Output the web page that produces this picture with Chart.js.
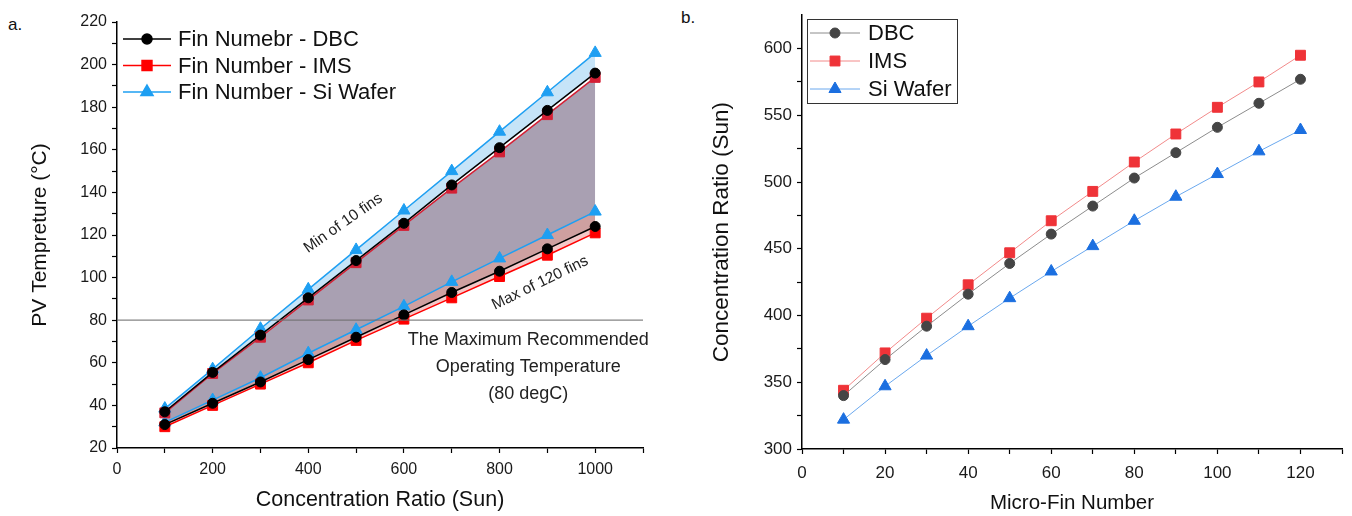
<!DOCTYPE html>
<html>
<head>
<meta charset="utf-8">
<script src="https://cdn.jsdelivr.net/npm/chart.js@4.4.1/dist/chart.umd.min.js"></script>
<style>
    body { margin: 0; width: 1352px; height: 516px; background: #fff; position: relative; overflow: hidden; font-family: "Liberation Sans", Arial, sans-serif; }
    #wrapA { position: absolute; left: 0; top: 0; width: 665px; height: 516px; }
    #wrapB { position: absolute; left: 665px; top: 0; width: 687px; height: 516px; }
    .tag { position: absolute; font-size: 17px; color: #111; }
</style>
</head>
<body>
<div class="tag" style="left:8px;top:15px">a.</div>
<div class="tag" style="left:681px;top:8px">b.</div>
<div id="wrapA"><canvas id="chartA" width="665" height="516"></canvas></div>
<div id="wrapB"><canvas id="chartB" width="687" height="516"></canvas></div>
<script>
// ---- chart a data ----
const sunRatio = [100, 200, 300, 400, 500, 600, 700, 800, 900, 1000];
const dbcMin10 = [37, 55.5, 73, 90.5, 108, 125.5, 143.5, 161, 178.5, 196];
const imsMin10 = [36.5, 55, 72, 89.5, 107, 124.5, 142, 159, 176.5, 194];
const siMin10 = [38.5, 57, 76, 94.5, 113, 131.5, 150, 168.5, 187, 205.5];
const dbcMax120 = [31, 41, 51, 61.5, 72, 82.5, 93, 103, 113.5, 124];
const imsMax120 = [30, 40, 50, 60, 70.5, 80.5, 90.5, 100.5, 110.5, 121];
const siMax120 = [32, 42.5, 53, 64.5, 75.5, 86.5, 98, 109, 120, 131];
const legendA = ['Fin Numebr - DBC', 'Fin Number - IMS', 'Fin Number - Si Wafer'];
const limitTemp = 80;
const limitText = ['The Maximum Recommended', 'Operating Temperature', '(80 degC)'];

// ---- chart b data ----
const finNumber = [10, 20, 30, 40, 50, 60, 70, 80, 90, 100, 110, 120];
const dbcRatio = [340, 367, 392, 416, 439, 461, 482, 503, 522, 541, 559, 577];
const imsRatio = [344, 372, 398, 423, 447, 471, 493, 515, 536, 556, 575, 595];
const siRatio = [322, 347, 370, 392, 413, 433, 452, 471, 489, 506, 523, 539];
const legendB = ['DBC', 'IMS', 'Si Wafer'];

const FONT = '"Liberation Sans", Arial, sans-serif';

function pts(xs, ys) {
    return xs.map((x, i) => ({ x: x, y: ys[i] }));
}

// Legend drawn inside the plot area
const boxLegend = {
    id: 'boxLegend',
    afterDraw(chart, args, opts) {
        const ctx = chart.ctx;
        ctx.save();
        if (opts.box) {
            ctx.fillStyle = '#fff';
            ctx.fillRect(opts.box.x, opts.box.y, opts.box.w, opts.box.h);
            ctx.strokeStyle = '#333';
            ctx.lineWidth = 1;
            ctx.strokeRect(opts.box.x + 0.5, opts.box.y + 0.5, opts.box.w, opts.box.h);
        }
        opts.items.forEach((it, i) => {
            const ds = chart.data.datasets[it.index];
            const y = opts.y + i * opts.rowH;
            ctx.strokeStyle = ds.borderColor;
            ctx.lineWidth = ds.borderWidth;
            ctx.beginPath();
            ctx.moveTo(opts.x, y);
            ctx.lineTo(opts.x + opts.lineLen, y);
            ctx.stroke();
            ctx.fillStyle = ds.pointBackgroundColor;
            ctx.strokeStyle = ds.pointBorderColor;
            Chart.helpers.drawPoint(ctx, { pointStyle: ds.pointStyle, radius: ds.pointRadius, borderWidth: 1, rotation: 0 },
                opts.x + opts.lineLen / 2, y);
            ctx.fillStyle = '#111';
            ctx.font = opts.font;
            ctx.textBaseline = 'middle';
            ctx.textAlign = 'left';
            ctx.fillText(it.text, opts.x + opts.lineLen + opts.gap, y + 1);
        });
        ctx.restore();
    }
};

// Limit line and notes for chart a
const notesA = {
    id: 'notesA',
    afterDatasetsDraw(chart) {
        const ctx = chart.ctx;
        const xs = chart.scales.x, ys = chart.scales.y;
        const area = chart.chartArea;
        ctx.save();
        const yl = ys.getPixelForValue(limitTemp);
        ctx.strokeStyle = 'rgba(110,110,110,0.85)';
        ctx.lineWidth = 1.3;
        ctx.beginPath();
        ctx.moveTo(area.left, yl);
        ctx.lineTo(area.right, yl);
        ctx.stroke();

        ctx.fillStyle = '#222';
        ctx.textAlign = 'center';
        ctx.textBaseline = 'middle';
        ctx.font = '18px ' + FONT;
        const cx = xs.getPixelForValue(860);
        [70.7, 58, 45.3].forEach((v, i) => {
            ctx.fillText(limitText[i], cx, ys.getPixelForValue(v));
        });

        ctx.font = '15.5px ' + FONT;
        ctx.translate(xs.getPixelForValue(473), ys.getPixelForValue(125.5));
        ctx.rotate(-35 * Math.PI / 180);
        ctx.fillText('Min of 10 fins', 0, 0);
        ctx.setTransform(1, 0, 0, 1, 0, 0);
        ctx.translate(xs.getPixelForValue(885), ys.getPixelForValue(97.5));
        ctx.rotate(-26 * Math.PI / 180);
        ctx.fillText('Max of 120 fins', 0, 0);
        ctx.restore();
    }
};

function line(label, data, color, marker, radius, width, fill) {
    return {
        label: label,
        data: data,
        borderColor: color,
        borderWidth: width,
        pointStyle: marker,
        pointRadius: radius,
        pointBackgroundColor: color,
        pointBorderColor: color,
        pointBorderWidth: 1,
        tension: 0,
        fill: fill || false
    };
}

function band(target, color) {
    return { target: target, above: color, below: color };
}

const axisGrid = {
    drawOnChartArea: false,
    drawTicks: true,
    tickLength: 5,
    tickWidth: 1.2,
    color: '#000'
};

// Chart a
new Chart(document.getElementById('chartA'), {
    type: 'line',
    data: {
        datasets: [
            line(legendA[0], pts(sunRatio, dbcMin10), '#000000', 'circle', 5, 1.5),
            line(legendA[1], pts(sunRatio, imsMin10), '#d42035', 'rect', 7, 1.5, band(5, 'rgb(169,160,178)')),
            line(legendA[2], pts(sunRatio, siMin10), '#1e9ff2', 'triangle', 7, 1.5, band(0, 'rgb(198,228,248)')),
            line(legendA[0], pts(sunRatio, dbcMax120), '#000000', 'circle', 5, 1.5, band(4, 'rgb(244,200,200)')),
            line(legendA[1], pts(sunRatio, imsMax120), '#ff0000', 'rect', 7, 1.5),
            line(legendA[2], pts(sunRatio, siMax120), '#1e9ff2', 'triangle', 7, 1.5, band(3, 'rgb(206,160,160)'))
        ]
    },
    options: {
        responsive: false,
        animation: false,
        layout: { padding: { top: 22, right: 22, left: 0, bottom: 0 } },
        plugins: {
            legend: { display: false },
            tooltip: { enabled: false },
            filler: { drawTime: 'beforeDatasetsDraw', propagate: false },
            boxLegend: {
                x: 123, y: 39, rowH: 26.5, lineLen: 48, gap: 7, font: '22px ' + FONT,
                items: [
                    { index: 3, text: legendA[0] },
                    { index: 4, text: legendA[1] },
                    { index: 5, text: legendA[2] }
                ]
            }
        },
        scales: {
            x: {
                type: 'linear',
                min: 0,
                max: 1100,
                afterFit: s => { s.height = 68; },
                border: { color: '#000', width: 1.5 },
                grid: axisGrid,
                ticks: {
                    stepSize: 100,
                    autoSkip: false,
                    maxRotation: 0,
                    padding: 7,
                    color: '#1a1a1a',
                    font: { size: 16, family: FONT },
                    callback: v => (v % 200 === 0 ? v : '')
                },
                title: {
                    display: true,
                    text: 'Concentration Ratio (Sun)',
                    color: '#111',
                    font: { size: 21.5, family: FONT },
                    padding: { top: 0, bottom: 3 }
                }
            },
            y: {
                min: 20,
                max: 220,
                afterFit: s => { s.width = 117; },
                border: { color: '#000', width: 1.5 },
                grid: axisGrid,
                ticks: {
                    stepSize: 10,
                    autoSkip: false,
                    padding: 5,
                    color: '#1a1a1a',
                    font: { size: 16, family: FONT },
                    callback: v => (v % 20 === 0 ? v : '')
                },
                title: {
                    display: true,
                    text: 'PV Tempreture (°C)',
                    color: '#111',
                    font: { size: 21, family: FONT },
                    padding: { top: 28, bottom: 0 }
                }
            }
        }
    },
    plugins: [boxLegend, notesA]
});

// Chart b
new Chart(document.getElementById('chartB'), {
    type: 'line',
    data: {
        datasets: [
            Object.assign(line(legendB[0], pts(finNumber, dbcRatio), '#8c8c8c', 'circle', 5, 1),
                { pointBackgroundColor: '#454545', pointBorderColor: '#454545' }),
            Object.assign(line(legendB[1], pts(finNumber, imsRatio), '#f28a8a', 'rect', 7, 1),
                { pointBackgroundColor: '#ef3338', pointBorderColor: '#ef3338' }),
            Object.assign(line(legendB[2], pts(finNumber, siRatio), '#6aa8ee', 'triangle', 7, 1),
                { pointBackgroundColor: '#1b6fe0', pointBorderColor: '#1b6fe0' })
        ]
    },
    options: {
        responsive: false,
        animation: false,
        layout: { padding: { top: 14, right: 10, left: 0, bottom: 0 } },
        plugins: {
            legend: { display: false },
            tooltip: { enabled: false },
            boxLegend: {
                box: { x: 142, y: 19, w: 150, h: 84 },
                x: 145, y: 33, rowH: 28, lineLen: 50, gap: 8, font: '22px ' + FONT,
                items: [
                    { index: 0, text: legendB[0] },
                    { index: 1, text: legendB[1] },
                    { index: 2, text: legendB[2] }
                ]
            }
        },
        scales: {
            x: {
                type: 'linear',
                min: 0,
                max: 130,
                afterFit: s => { s.height = 67; },
                border: { color: '#000', width: 1.5 },
                grid: axisGrid,
                ticks: {
                    stepSize: 10,
                    autoSkip: false,
                    maxRotation: 0,
                    padding: 9,
                    color: '#1a1a1a',
                    font: { size: 17, family: FONT },
                    callback: v => (v % 20 === 0 && v <= 120 ? v : '')
                },
                title: {
                    display: true,
                    text: 'Micro-Fin Number',
                    color: '#111',
                    font: { size: 20.5, family: FONT },
                    padding: { top: 0, bottom: 0 }
                }
            },
            y: {
                min: 300,
                max: 625,
                afterFit: s => { s.width = 137; },
                border: { color: '#000', width: 1.5 },
                grid: Object.assign({}, axisGrid, {
                    tickColor: c => (c.tick && c.tick.value > 600 ? 'rgba(0,0,0,0)' : '#000')
                }),
                ticks: {
                    stepSize: 25,
                    autoSkip: false,
                    padding: 5,
                    color: '#1a1a1a',
                    font: { size: 17, family: FONT },
                    callback: v => (v % 50 === 0 ? v : '')
                },
                title: {
                    display: true,
                    text: 'Concentration Ratio (Sun)',
                    color: '#111',
                    font: { size: 22.5, family: FONT },
                    padding: { top: 43, bottom: 0 }
                }
            }
        }
    },
    plugins: [boxLegend]
});
</script>
</body>
</html>
